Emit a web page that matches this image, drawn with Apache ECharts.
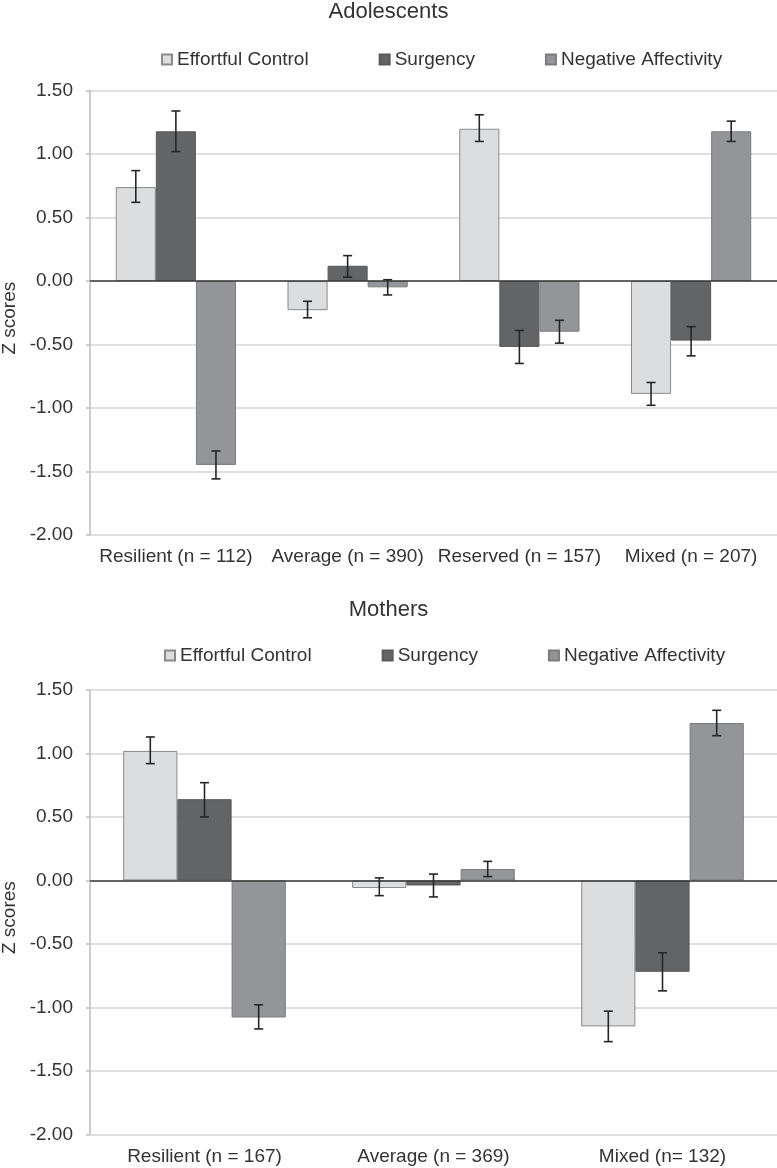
<!DOCTYPE html>
<html>
<head>
<meta charset="utf-8">
<script src="https://cdn.jsdelivr.net/npm/echarts@6/dist/echarts.min.js"></script>
<style>
html,body{margin:0;padding:0;background:#fff;}
#c{width:777px;height:1168px;}
</style>
</head>
<body>
<div id="c"></div>
<script>
// ---------- Data ----------
const seriesNames = ['Effortful Control', 'Surgency', 'Negative Affectivity'];
const yTicks = [-2, -1.5, -1, -0.5, 0, 0.5, 1, 1.5];

// Adolescents
const catsAdol = ['Resilient (n = 112)', 'Average (n = 390)', 'Reserved (n = 157)', 'Mixed (n = 207)'];
const ecAdol   = [0.74, -0.23, 1.20, -0.89];
const ecAdolLo = [0.62, -0.29, 1.10, -0.98];
const ecAdolHi = [0.87, -0.16, 1.31, -0.80];
const sgAdol   = [1.18, 0.12, -0.52, -0.47];
const sgAdolLo = [1.02, 0.03, -0.65, -0.59];
const sgAdolHi = [1.34, 0.20, -0.39, -0.36];
const naAdol   = [-1.45, -0.05, -0.40, 1.18];
const naAdolLo = [-1.56, -0.11, -0.49, 1.10];
const naAdolHi = [-1.34, 0.01, -0.31, 1.26];

// Mothers
const catsMoth = ['Resilient (n = 167)', 'Average (n = 369)', 'Mixed (n= 132)'];
const ecMoth   = [1.02, -0.06, -1.15];
const ecMothLo = [0.92, -0.12, -1.27];
const ecMothHi = [1.13, 0.02, -1.03];
const sgMoth   = [0.64, -0.04, -0.72];
const sgMothLo = [0.50, -0.13, -0.87];
const sgMothHi = [0.77, 0.05, -0.57];
const naMoth   = [-1.08, 0.09, 1.24];
const naMothLo = [-1.17, 0.03, 1.14];
const naMothHi = [-0.98, 0.15, 1.34];

// ---------- Styles ----------
const fills = ['#dcdddf', '#636466', '#939598'];
const borders = ['#8a8a8a', '#5a5a5a', '#7c7c7c'];
const textColor = '#333';
const FONT = 'Liberation Sans, Arial, sans-serif';
const gaps = [0.30, 0.29];

function barSeries(k, gi, data) {
  const s = {
    name: seriesNames[k], type: 'bar', xAxisIndex: gi, yAxisIndex: gi,
    data: data, barGap: '0%', barCategoryGap: (gaps[gi] * 100) + '%',
    itemStyle: { color: fills[k], borderColor: borders[k], borderWidth: 1 },
    emphasis: { disabled: true }, z: 2
  };
  if (k === 0) {
    s.markLine = {
      silent: true, symbol: 'none', label: { show: false },
      lineStyle: { color: '#3a3a3a', width: 1.5, type: 'solid' },
      data: [{ yAxis: 0 }], z: 5
    };
  }
  return s;
}

function errSeries(k, gi, lo, hi) {
  const gap = gaps[gi];
  return {
    name: 'err' + gi + k, type: 'custom', xAxisIndex: gi, yAxisIndex: gi, z: 10,
    silent: true,
    data: lo.map((v, i) => [i, v, hi[i]]),
    renderItem: function (params, api) {
      const idx = api.value(0);
      const base = api.coord([idx, 0]);
      const band = api.size([1, 0])[0];
      const bw = band * (1 - gap) / 3;
      const cx = base[0] + (k - 1) * bw;
      const yLo = api.coord([idx, api.value(1)])[1];
      const yHi = api.coord([idx, api.value(2)])[1];
      const cap = 4.5;
      const st = { stroke: '#262626', lineWidth: 1.6 };
      return {
        type: 'group',
        children: [
          { type: 'line', shape: { x1: cx, y1: yLo, x2: cx, y2: yHi }, style: st },
          { type: 'line', shape: { x1: cx - cap, y1: yLo, x2: cx + cap, y2: yLo }, style: st },
          { type: 'line', shape: { x1: cx - cap, y1: yHi, x2: cx + cap, y2: yHi }, style: st }
        ]
      };
    }
  };
}

function yAxis(gi) {
  return {
    type: 'value', gridIndex: gi, min: yTicks[0], max: yTicks[yTicks.length - 1], interval: 0.5,
    name: 'Z scores', nameLocation: 'middle', nameGap: 70,
    nameTextStyle: { fontSize: 19, color: textColor, fontFamily: FONT, padding: [0, 11, 0, 0] },
    axisLine: { show: true, lineStyle: { color: '#bdbdbd', width: 1.5 } },
    axisTick: { show: true, length: 4, lineStyle: { color: '#bdbdbd', width: 1.5 } },
    axisLabel: { fontSize: 19, color: textColor, fontFamily: FONT, margin: 17,
      formatter: v => v.toFixed(2) },
    splitLine: { show: true, lineStyle: { color: '#d4d4d4', width: 1.5 } }
  };
}

function xAxis(gi, cats) {
  return {
    type: 'category', gridIndex: gi, data: cats,
    axisLine: { show: false }, axisTick: { show: false },
    axisLabel: { fontSize: 19, color: textColor, fontFamily: FONT, margin: 13, interval: 0 }
  };
}

function legend(top, left) {
  return {
    data: seriesNames, top: top, left: left, itemGap: 70, padding: 0,
    itemWidth: 10, itemHeight: 10, selectedMode: false,
    icon: 'rect',
    textStyle: { fontSize: 19, color: textColor, fontFamily: FONT }
  };
}

const option = {
  animation: false,
  backgroundColor: '#fff',
  title: [
    { text: 'Adolescents', left: 'center', top: -4,
      textStyle: { fontSize: 22, fontWeight: 'normal', color: textColor, fontFamily: FONT } },
    { text: 'Mothers', left: 'center', top: 594,
      textStyle: { fontSize: 22, fontWeight: 'normal', color: textColor, fontFamily: FONT } }
  ],
  legend: [legend(50, 161), legend(646, 164)],
  grid: [
    { left: 90, right: 0, top: 90.7, height: 444, outerBoundsMode: 'none', containLabel: false },
    { left: 90, right: 0, top: 690, height: 444.3, outerBoundsMode: 'none', containLabel: false }
  ],
  xAxis: [xAxis(0, catsAdol), xAxis(1, catsMoth)],
  yAxis: [yAxis(0), yAxis(1)],
  series: [
    barSeries(0, 0, ecAdol), barSeries(1, 0, sgAdol), barSeries(2, 0, naAdol),
    errSeries(0, 0, ecAdolLo, ecAdolHi), errSeries(1, 0, sgAdolLo, sgAdolHi), errSeries(2, 0, naAdolLo, naAdolHi),
    barSeries(0, 1, ecMoth), barSeries(1, 1, sgMoth), barSeries(2, 1, naMoth),
    errSeries(0, 1, ecMothLo, ecMothHi), errSeries(1, 1, sgMothLo, sgMothHi), errSeries(2, 1, naMothLo, naMothHi)
  ]
};

const chart = echarts.init(document.getElementById('c'), null, { renderer: 'canvas' });
chart.setOption(option);
</script>
</body>
</html>
